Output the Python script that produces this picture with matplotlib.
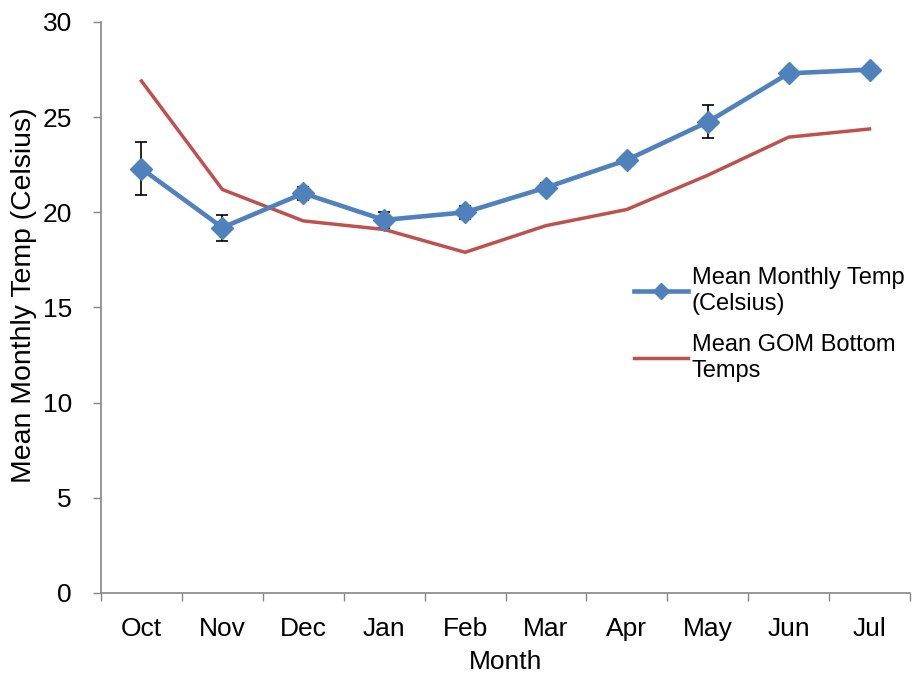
import matplotlib
matplotlib.use("Agg")
import matplotlib.pyplot as plt
import numpy as np

months = ["Oct", "Nov", "Dec", "Jan", "Feb", "Mar", "Apr", "May", "Jun", "Jul"]
mean_temp = [22.3, 19.2, 21.0, 19.6, 20.0, 21.3, 22.75, 24.75, 27.3, 27.5]
mean_temp_err = [1.4, 0.68, 0.35, 0.4, 0.35, 0.25, 0.2, 0.87, 0.2, 0.2]
gom_bottom = [26.9, 21.2, 19.55, 19.1, 17.9, 19.3, 20.15, 21.95, 23.95, 24.38]
yticks = [0, 5, 10, 15, 20, 25, 30]

plt.rcParams['font.family'] = ['Liberation Sans', 'DejaVu Sans']

fig = plt.figure(figsize=(9.17, 6.75), dpi=100)
ax = fig.add_axes([101/917, 1-593/675, (910-101)/917, (593-22)/675])

x = np.arange(len(months))
blue = '#4F81BD'
red = '#C0504D'

ax.errorbar(x, mean_temp, yerr=mean_temp_err, fmt='none', ecolor='black',
            elinewidth=1.2, capsize=4, capthick=1.2, zorder=2)
ax.plot(x, mean_temp, color=blue, lw=3.3, marker='D', markersize=11.5,
        label='Mean Monthly Temp\n(Celsius)', zorder=3)
ax.plot(x, gom_bottom, color=red, lw=2.5, label='Mean GOM Bottom\nTemps', zorder=2)

ax.set_xlim(-0.5, len(months) - 0.5)
ax.set_ylim(0, 30)
ax.set_yticks(yticks)
ax.set_xticks(x)
ax.set_xticklabels(months)
ax.set_xticks(np.arange(len(months) + 1) - 0.5, minor=True)
fs = 19
ax.tick_params(axis='x', which='major', length=0, pad=17, labelsize=fs)
ax.tick_params(axis='x', which='minor', length=6, width=1, color='#868686', direction='out')
ax.tick_params(axis='y', which='major', length=6, width=1, color='#868686', labelsize=fs, pad=15)

for s in ['top', 'right']:
    ax.spines[s].set_visible(False)
for s in ['left', 'bottom']:
    ax.spines[s].set_color('#868686')
    ax.spines[s].set_linewidth(1.2)

ax.set_xlabel('Month', fontsize=fs, labelpad=7)
ax.set_ylabel('Mean Monthly Temp (Celsius)', fontsize=20.4)
ax.yaxis.set_label_coords(37/917, 1-295/675, transform=fig.transFigure)

leg = ax.legend(loc='upper left', bbox_to_anchor=(622/917, 1-255/675),
                bbox_transform=fig.transFigure, frameon=False, fontsize=17,
                handlelength=2.3, handletextpad=0.15, labelspacing=0.8,
                borderpad=0, markerscale=0.7)
for t in leg.get_texts():
    t.set_linespacing(1.25)

fig.savefig('out.png', dpi=100)
